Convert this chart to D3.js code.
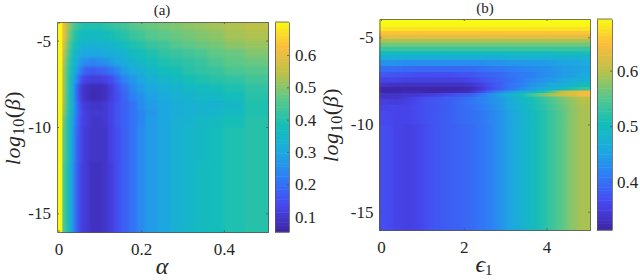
<!DOCTYPE html>
<html>
<head>
<script src="https://d3js.org/d3.v7.min.js"></script>
<style>
  body { margin: 0; background: #fff; }
  svg { display: block; }
  text { font-family: "Liberation Serif", serif; fill: #262626; }
  .tick line, .domain { stroke: #555; stroke-width: 0.8; }
  .tick text { font-size: 17px; }
  .lab { font-size: 24px; }
  .ylab { font-size: 22px; letter-spacing: 0.6px; }
  .ttl { font-size: 15px; }
</style>
</head>
<body>
<svg id="chart" width="640" height="280"></svg>
<script>
// parula stops
var parulaStops = ["#3e26a8", "#4748f0", "#2f7df6", "#1caadf", "#13beb7", "#5ac88a", "#bcc148", "#fcbd3c", "#f9fb15"];

var yTicks = [-5, -10, -15];

// panel (a)
var alphaEdges = [-0.0036, 0.008, 0.016, 0.024, 0.032, 0.04, 0.05, 0.06, 0.075, 0.09, 0.105, 0.12, 0.135, 0.15, 0.17, 0.19, 0.21, 0.24, 0.27, 0.30, 0.33, 0.36, 0.40, 0.45, 0.5067];
var betaEdgesA = [-3.92, -4.4, -5, -5.5, -6, -6.5, -7, -7.5, -8, -8.5, -9, -9.4, -10, -12, -16.08];
var gridA = [
  [.70,.62,.54,.49,.45,.42,.40,.39,.39,.39,.40,.41,.42,.43,.45,.46,.47,.48,.49,.50,.51,.52,.53,.54],
  [.70,.62,.53,.47,.42,.39,.37,.36,.36,.36,.37,.38,.39,.40,.42,.43,.45,.46,.47,.48,.49,.50,.52,.53],
  [.70,.60,.50,.44,.39,.36,.33,.33,.32,.33,.33,.34,.35,.37,.39,.40,.42,.43,.45,.46,.47,.48,.50,.51],
  [.70,.58,.48,.42,.37,.33,.30,.29,.29,.29,.30,.31,.32,.33,.36,.37,.39,.41,.42,.43,.44,.46,.47,.49],
  [.70,.56,.46,.40,.35,.30,.26,.24,.23,.24,.25,.27,.29,.31,.33,.35,.37,.39,.40,.41,.42,.44,.46,.47],
  [.70,.55,.45,.39,.33,.27,.21,.17,.16,.17,.18,.20,.23,.27,.30,.32,.34,.37,.38,.40,.41,.42,.44,.45],
  [.70,.54,.45,.38,.31,.23,.15,.12,.11,.11,.12,.14,.18,.23,.26,.29,.32,.34,.36,.38,.39,.40,.41,.43],
  [.70,.54,.45,.37,.29,.18,.11,.08,.07,.07,.08,.11,.15,.19,.24,.27,.29,.32,.33,.35,.36,.37,.39,.41],
  [.70,.54,.44,.37,.29,.18,.11,.08,.065,.07,.08,.11,.14,.18,.22,.25,.28,.30,.32,.33,.35,.35,.37,.40],
  [.70,.53,.44,.37,.29,.20,.13,.10,.09,.09,.10,.12,.15,.17,.20,.24,.27,.29,.31,.32,.33,.33,.35,.39],
  [.70,.52,.43,.36,.28,.20,.14,.11,.10,.10,.10,.12,.15,.17,.20,.23,.26,.29,.31,.32,.33,.34,.36,.39],
  [.70,.50,.41,.35,.27,.19,.13,.11,.09,.09,.10,.12,.15,.17,.20,.23,.27,.29,.32,.33,.35,.36,.38,.40],
  [.70,.48,.41,.34,.26,.18,.13,.10,.09,.09,.09,.12,.14,.17,.20,.24,.27,.29,.32,.34,.35,.37,.39,.40],
  [.70,.46,.40,.33,.25,.17,.12,.10,.08,.08,.09,.11,.14,.17,.20,.24,.27,.29,.32,.34,.36,.37,.39,.40]
];
var xTicksA = [0, 0.2, 0.4];
var barTicksA = [0.1, 0.2, 0.3, 0.4, 0.5, 0.6];
var barRangeA = [0.0526, 0.702];

// panel (b)
var epsEdges = [-0.036, 0.25, 0.5, 0.75, 1, 1.25, 1.5, 1.75, 2, 2.25, 2.5, 2.75, 3, 3.25, 3.5, 3.75, 4, 4.25, 4.5, 4.75, 5.05];
var betaEdgesB = [-3.95, -4.2, -4.4, -4.65, -4.85, -5.1, -5.3, -5.55, -5.8, -6, -6.3, -6.65, -7, -7.3, -7.6, -7.85, -8.05, -8.2, -8.4, -8.55, -8.85, -9.2, -10, -16.05];
var gridB = [
  [.693,.693,.693,.693,.693,.693,.693,.693,.693,.693,.693,.693,.693,.693,.693,.693,.693,.693,.693,.693],
  [.69,.69,.69,.69,.69,.69,.69,.69,.69,.69,.69,.69,.69,.69,.69,.69,.69,.69,.69,.69],
  [.675,.675,.675,.675,.675,.675,.675,.675,.675,.675,.675,.675,.675,.675,.675,.675,.675,.675,.675,.675],
  [.65,.65,.65,.65,.65,.65,.65,.65,.65,.65,.65,.65,.65,.65,.65,.65,.65,.65,.65,.65],
  [.625,.625,.625,.625,.625,.625,.625,.625,.625,.625,.625,.625,.625,.625,.625,.625,.625,.625,.625,.625],
  [.59,.59,.59,.59,.59,.59,.59,.59,.59,.59,.59,.59,.59,.59,.59,.59,.59,.59,.59,.59],
  [.56,.56,.56,.56,.56,.56,.56,.56,.56,.56,.56,.56,.56,.56,.56,.56,.56,.56,.56,.56],
  [.53,.53,.53,.53,.53,.53,.53,.53,.53,.53,.53,.53,.53,.53,.53,.53,.53,.53,.53,.53],
  [.50,.50,.50,.50,.50,.50,.50,.50,.50,.50,.50,.50,.50,.50,.50,.50,.50,.505,.505,.505],
  [.465,.465,.465,.465,.465,.465,.465,.465,.465,.465,.465,.465,.47,.47,.47,.47,.47,.475,.475,.475],
  [.43,.43,.425,.425,.425,.425,.425,.425,.425,.425,.43,.43,.435,.435,.44,.44,.445,.45,.45,.455],
  [.395,.395,.39,.39,.39,.39,.39,.39,.39,.395,.40,.405,.41,.415,.42,.425,.43,.44,.445,.45],
  [.375,.37,.37,.365,.365,.365,.365,.37,.37,.38,.385,.39,.40,.405,.41,.42,.43,.44,.445,.455],
  [.355,.355,.35,.35,.35,.35,.35,.35,.355,.365,.375,.385,.395,.405,.42,.43,.44,.45,.46,.47],
  [.335,.33,.33,.33,.33,.33,.33,.33,.335,.345,.365,.38,.40,.41,.43,.44,.46,.47,.485,.50],
  [.315,.315,.315,.315,.315,.315,.315,.315,.32,.335,.36,.38,.40,.42,.44,.46,.47,.49,.51,.53],
  [.315,.315,.32,.32,.315,.315,.32,.32,.33,.355,.39,.42,.44,.46,.48,.50,.54,.60,.62,.64],
  [.335,.335,.34,.34,.345,.35,.36,.37,.38,.40,.425,.45,.475,.50,.53,.56,.59,.61,.62,.64],
  [.335,.335,.345,.355,.365,.37,.38,.385,.395,.41,.425,.44,.465,.485,.505,.525,.545,.565,.585,.60],
  [.35,.345,.35,.36,.37,.375,.38,.39,.40,.41,.425,.44,.46,.48,.50,.52,.54,.56,.58,.595],
  [.355,.355,.355,.36,.37,.375,.38,.39,.395,.405,.42,.435,.455,.475,.495,.515,.535,.555,.575,.59],
  [.36,.355,.355,.36,.37,.375,.38,.39,.395,.40,.415,.43,.45,.47,.49,.51,.53,.55,.575,.59],
  [.365,.355,.35,.355,.365,.375,.38,.385,.39,.40,.41,.43,.45,.47,.49,.51,.53,.55,.575,.59]
];
var xTicksB = [0, 2, 4];
var barTicksB = [0.4, 0.5, 0.6];
var barRangeB = [0.313, 0.693];

var svg = d3.select("#chart");
var defs = svg.append("defs");

// blur to get the soft look of the picture, alpha pushed back to 1 at the borders
function softFilter(id, dev) {
  var f = defs.append("filter").attr("id", id)
    .attr("x", 0).attr("y", 0).attr("width", 1).attr("height", 1)
    .attr("color-interpolation-filters", "sRGB");
  f.append("feGaussianBlur").attr("stdDeviation", dev);
  f.append("feComponentTransfer").append("feFuncA").attr("type", "linear").attr("slope", 100);
}
softFilter("softA", "1.6");
softFilter("softB", "3 0.5");

function parula(range) {
  var t = d3.scaleLinear()
    .domain(d3.range(parulaStops.length).map(function(i) {
      return range[0] + (range[1] - range[0]) * i / (parulaStops.length - 1);
    }))
    .range(parulaStops)
    .interpolate(d3.interpolateRgb)
    .clamp(true);
  return t;
}

function mirrorAxes(g, x, y, xt, yt) {
  var r = y.range(), q = x.range();
  g.append("g").attr("transform", "translate(0," + r[1] + ")")
    .call(d3.axisBottom(x).tickValues(xt).tickSizeOuter(0).tickSizeInner(-2).tickPadding(11).tickFormat(String));
  g.append("g").attr("transform", "translate(0," + r[0] + ")")
    .call(d3.axisTop(x).tickValues(xt).tickSizeOuter(0).tickSizeInner(-2).tickFormat(""));
  g.append("g").attr("transform", "translate(" + q[0] + ",0)")
    .call(d3.axisLeft(y).tickValues(yt).tickSizeOuter(0).tickSizeInner(-2).tickPadding(6).tickFormat(String));
  g.append("g").attr("transform", "translate(" + q[1] + ",0)")
    .call(d3.axisRight(y).tickValues(yt).tickSizeOuter(0).tickSizeInner(-2).tickFormat(""));
}

function drawCells(layer, cells, o, x, y, color) {
  layer.selectAll("rect").data(cells).enter().append("rect")
    .attr("x", function(d) { return x(o.xEdges[d.j]); })
    .attr("y", function(d) { return y(o.yEdges[d.i]); })
    .attr("width", function(d) { return x(o.xEdges[d.j + 1]) - x(o.xEdges[d.j]) + 0.5; })
    .attr("height", function(d) { return y(o.yEdges[d.i + 1]) - y(o.yEdges[d.i]) + 0.5; })
    .attr("fill", function(d) { return color(d.v); });
}

function panel(o) {
  var g = svg.append("g");
  var color = parula(o.barRange);
  var x = d3.scaleLinear().domain([o.xEdges[0], o.xEdges[o.xEdges.length - 1]]).range(o.xRange);
  var y = d3.scaleLinear().domain([o.yEdges[0], o.yEdges[o.yEdges.length - 1]]).range(o.yRange);

  var cells = [];
  o.grid.forEach(function(row, i) {
    row.forEach(function(v, j) { cells.push({ i: i, j: j, v: v }); });
  });

  // the yellow first column of (a) stays crisp, everything else gets softened
  drawCells(g.append("g").attr("filter", "url(#" + o.filter + ")"),
    cells.filter(function(d) { return d.j >= o.crispCols; }), o, x, y, color);
  drawCells(g.append("g"), cells.filter(function(d) { return d.j < o.crispCols; }), o, x, y, color);

  mirrorAxes(g, x, y, o.xTicks, yTicks);

  // colorbar
  var bar = d3.scaleLinear().domain(o.barRange).range([o.yRange[1], o.yRange[0]]);
  var steps = d3.range(o.barRange[0], o.barRange[1], (o.barRange[1] - o.barRange[0]) / 64);
  var stepH = (o.yRange[1] - o.yRange[0]) / 64;
  g.append("g").selectAll("rect").data(steps).enter().append("rect")
    .attr("x", o.barRangeX[0])
    .attr("width", o.barRangeX[1] - o.barRangeX[0])
    .attr("y", function(d) { return bar(d) - stepH; })
    .attr("height", stepH + 0.5)
    .attr("fill", function(d) { return color(d); });
  g.append("g").attr("transform", "translate(" + o.barRangeX[1] + ",0)")
    .call(d3.axisRight(bar).tickValues(o.barTicks).tickSizeOuter(0).tickSizeInner(-2).tickPadding(o.barPad).tickFormat(d3.format(".1f")));
  g.append("g").attr("transform", "translate(" + o.barRangeX[0] + ",0)")
    .call(d3.axisLeft(bar).tickValues([]).tickSizeOuter(0));
  g.append("path")
    .attr("d", "M" + o.barRangeX[0] + "," + o.yRange[0] + "H" + o.barRangeX[1] + "M" + o.barRangeX[0] + "," + o.yRange[1] + "H" + o.barRangeX[1])
    .attr("stroke", "#555").attr("stroke-width", 0.8);

  // labels
  g.append("text").attr("class", "ttl").attr("text-anchor", "middle")
    .attr("x", o.titlePos[0]).attr("y", o.titlePos[1]).text(o.title);

  var yl = g.append("text").attr("class", "ylab").attr("text-anchor", "middle")
    .attr("transform", "translate(" + o.yLabelPos[0] + "," + o.yLabelPos[1] + ") rotate(-90)");
  yl.append("tspan").attr("font-style", "italic").text("log");
  yl.append("tspan").attr("font-size", 16).attr("dy", 4).text("10");
  yl.append("tspan").attr("dy", -4).text("(");
  yl.append("tspan").attr("font-style", "italic").text("β");
  yl.append("tspan").text(")");

  var xl = g.append("text").attr("class", "lab").attr("text-anchor", "middle")
    .attr("x", o.xLabelPos[0]).attr("y", o.xLabelPos[1]);
  xl.append("tspan").attr("font-style", "italic").text(o.xLabel);
  if (o.xSub) xl.append("tspan").attr("font-size", 15).attr("dy", 3).text(o.xSub);
}

panel({
  xEdges: alphaEdges, yEdges: betaEdgesA, grid: gridA, xTicks: xTicksA,
  barTicks: barTicksA, barRange: barRangeA, filter: "softA", crispCols: 1,
  xRange: [57, 268], yRange: [22, 232], barRangeX: [275, 289], barPad: 6,
  title: "(a)", titlePos: [162, 15],
  xLabel: "α", xLabelPos: [162, 274], yLabelPos: [20, 128]
});

panel({
  xEdges: epsEdges, yEdges: betaEdgesB, grid: gridB, xTicks: xTicksB,
  barTicks: barTicksB, barRange: barRangeB, filter: "softB", crispCols: 0,
  xRange: [379.5, 590], yRange: [19, 230], barRangeX: [597, 612], barPad: 5,
  title: "(b)", titlePos: [485, 13],
  xLabel: "ϵ", xSub: "1", xLabelPos: [484, 272], yLabelPos: [338, 125]
});
</script>
</body>
</html>
